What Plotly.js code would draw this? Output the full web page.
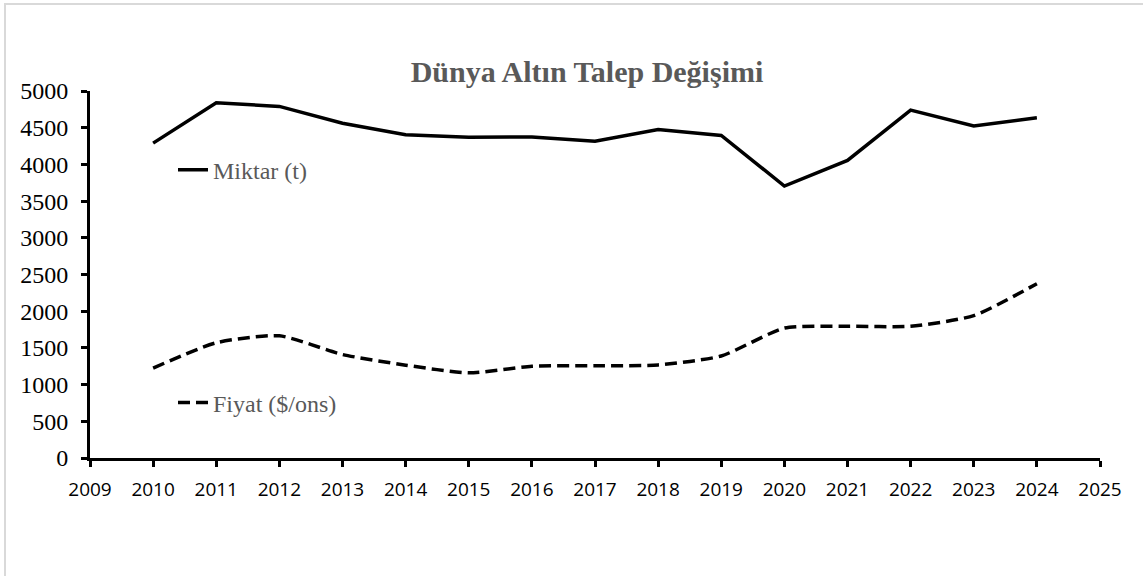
<!DOCTYPE html>
<html>
<head>
<meta charset="utf-8">
<script src="https://cdn.plot.ly/plotly-3.0.1.min.js"></script>
<style>
html,body{margin:0;padding:0;overflow:hidden;background:#fff;}
#wrap{position:relative;width:1143px;height:576px;overflow:hidden;}
#chart{width:1143px;height:576px;}
#frame{position:absolute;left:4px;top:3px;width:1300px;height:800px;border:2px solid #d9d9d9;pointer-events:none;box-sizing:border-box;}
</style>
</head>
<body>
<div id="wrap"><div id="chart"></div><div id="frame"></div></div>
<script>
const years = [2010,2011,2012,2013,2014,2015,2016,2017,2018,2019,2020,2021,2022,2023,2024];
const miktar = [4290,4840,4790,4560,4405,4370,4375,4315,4475,4395,3705,4055,4740,4525,4635];
const fiyat = [1225,1570,1665,1410,1265,1160,1250,1257,1268,1390,1770,1795,1795,1940,2375];
const seriesNames = ['Miktar (t)','Fiyat ($/ons)'];
const chartTitle = 'Dünya Altın Talep Değişimi';
const xTicks = [2009,2010,2011,2012,2013,2014,2015,2016,2017,2018,2019,2020,2021,2022,2023,2024,2025];
const yTicks = [0,500,1000,1500,2000,2500,3000,3500,4000,4500,5000];

const legendFont = {family:'"Liberation Serif", "Times New Roman", serif', size:24, color:'#595959'};

const traces = [
  {x:years, y:miktar, name:seriesNames[0], type:'scatter', mode:'lines',
   line:{color:'#000', width:3.5}, legend:'legend', hoverinfo:'x+y'},
  {x:years, y:fiyat, name:seriesNames[1], type:'scatter', mode:'lines',
   line:{color:'#000', width:3.5, dash:'12px,6px', shape:'spline', smoothing:0.6}, legend:'legend2', hoverinfo:'x+y'}
];

const layout = {
  width:1143, height:576,
  margin:{l:90, r:43, t:91, b:118, pad:0},
  paper_bgcolor:'#fff', plot_bgcolor:'#fff',
  showlegend:true,
  title:{text:'<b>'+chartTitle+'</b>', font:{family:'"Liberation Serif", "Times New Roman", serif', size:30, color:'#595959'},
         xref:'paper', x:(587-90)/1010, xanchor:'center', yref:'container', y:1-71/576, yanchor:'middle'},
  xaxis:{range:[2009,2025], tickmode:'array', tickvals:xTicks, ticktext:xTicks.map(String),
         showline:true, linecolor:'#000', linewidth:3, ticks:'outside', ticklen:6, tickwidth:3, tickcolor:'#000',
         showgrid:false, zeroline:false, ticklabelstandoff:6,
         tickfont:{family:'"Open Sans", "DejaVu Sans", sans-serif', size:19, color:'#000'}},
  yaxis:{range:[0,5000], tickmode:'array', tickvals:yTicks, ticktext:yTicks.map(String),
         showline:true, linecolor:'#000', linewidth:3, ticks:'outside', ticklen:6, tickwidth:3, tickcolor:'#000',
         showgrid:false, zeroline:false, ticklabelstandoff:8,
         tickfont:{family:'"Liberation Serif", "Times New Roman", serif', size:24, color:'#000'}},
  legend:{x:(173-90)/1010, xanchor:'left', y:3920/5000, yanchor:'middle', bgcolor:'rgba(0,0,0,0)', borderwidth:0,
          font:legendFont, itemwidth:30},
  legend2:{x:(173-90)/1010, xanchor:'left', y:750/5000, yanchor:'middle', bgcolor:'rgba(0,0,0,0)', borderwidth:0,
          font:legendFont, itemwidth:30}
};

Plotly.newPlot('chart', traces, layout, {displayModeBar:false, staticPlot:true});
</script>
</body>
</html>
